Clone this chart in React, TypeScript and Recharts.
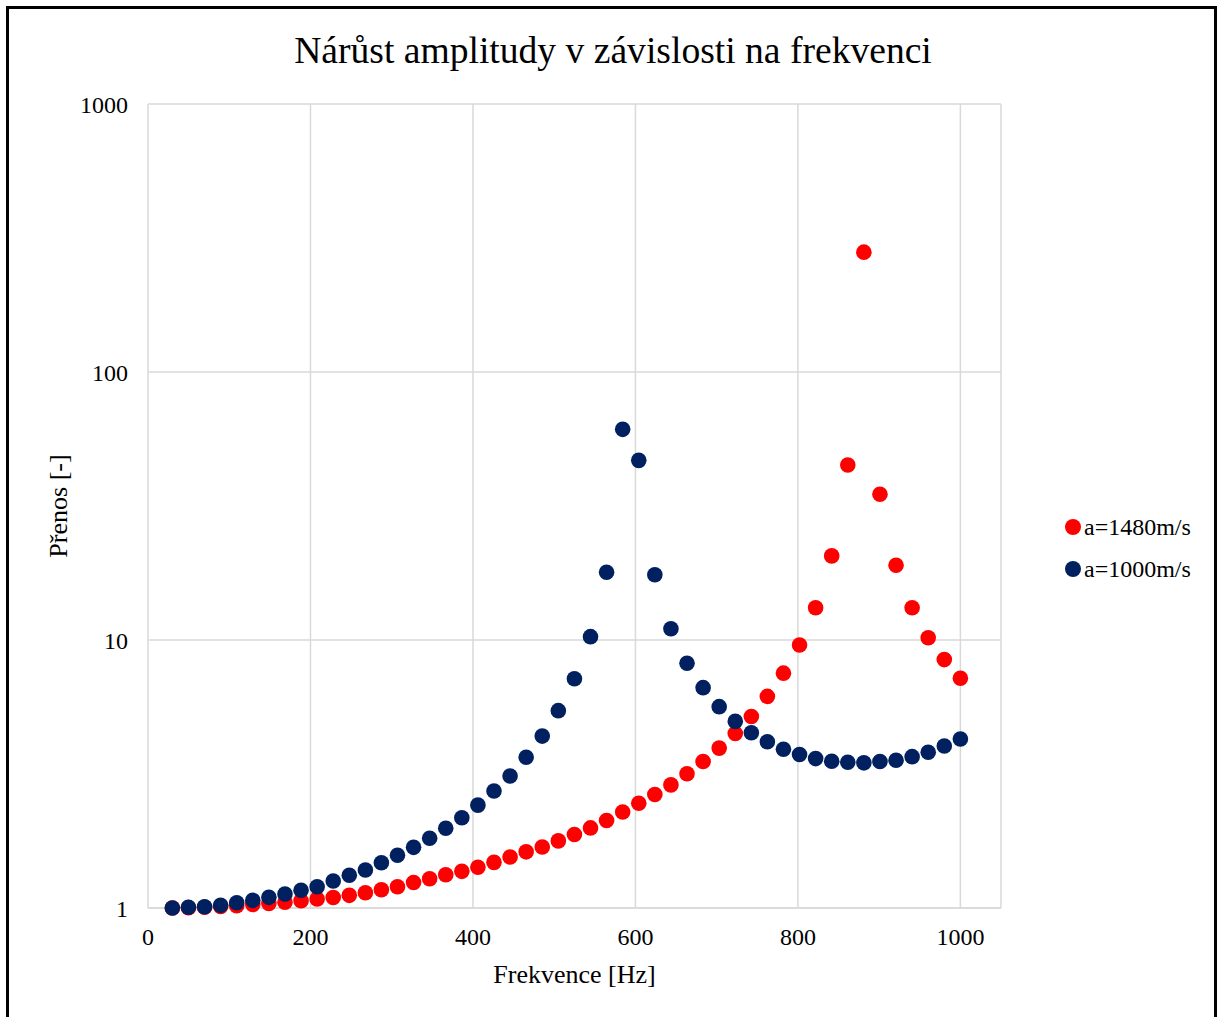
import React from 'react';
import { ScatterChart, Scatter, XAxis, YAxis, CartesianGrid } from 'recharts';

// frekvence [Hz]
const freq = [
  30.0, 49.8, 69.6, 89.4, 109.2, 129.0, 148.8, 168.6, 188.4, 208.2,
  228.0, 247.8, 267.6, 287.3, 307.1, 326.9, 346.7, 366.5, 386.3, 406.1,
  425.9, 445.7, 465.5, 485.3, 505.1, 524.9, 544.7, 564.5, 584.3, 604.1,
  623.9, 643.7, 663.5, 683.3, 703.1, 722.9, 742.7, 762.4, 782.2, 802.0,
  821.8, 841.6, 861.4, 881.2, 901.0, 920.8, 940.6, 960.4, 980.2, 1000.0,
];

// a=1480m/s
const prenos1480 = [
  1.0, 1.003, 1.007, 1.013, 1.02, 1.03, 1.04, 1.05, 1.065, 1.08,
  1.095, 1.115, 1.14, 1.17, 1.2, 1.245, 1.285, 1.33, 1.37, 1.42,
  1.48, 1.55, 1.62, 1.69, 1.78, 1.88, 1.99, 2.12, 2.28, 2.46,
  2.65, 2.88, 3.17, 3.52, 3.95, 4.48, 5.18, 6.16, 7.52, 9.58,
  13.2, 20.6, 45.0, 280, 35.0, 19.0, 13.2, 10.2, 8.45, 7.2,
];

// a=1000m/s
const prenos1000 = [
  1.0, 1.006, 1.011, 1.023, 1.046, 1.068, 1.096, 1.128, 1.164, 1.201,
  1.261, 1.325, 1.386, 1.476, 1.573, 1.684, 1.82, 1.983, 2.172, 2.42,
  2.731, 3.107, 3.65, 4.38, 5.45, 7.17, 10.29, 17.89, 61.1, 46.8,
  17.52, 11.02, 8.19, 6.64, 5.64, 4.97, 4.51, 4.17, 3.91, 3.74,
  3.61, 3.53, 3.5, 3.48, 3.52, 3.56, 3.67, 3.81, 4.02, 4.27,
];

const xTicks = [0, 200, 400, 600, 800, 1000];
const yTicks = [1, 10, 100, 1000];

const series = [
  { name: 'a=1480m/s', values: prenos1480, color: '#FF0000' },
  { name: 'a=1000m/s', values: prenos1000, color: '#002060' },
];

const FONT = '"Liberation Serif", "Times New Roman", serif';

const dot = (color: string) => (props: any) => (
  <circle cx={props.cx} cy={props.cy} r={7.8} fill={color} />
);

const App: React.FC = () => {
  return (
    <div style={{ position: 'absolute', left: 0, top: 0, width: 1218, height: 1017, overflow: 'hidden', fontFamily: FONT }}>
      <div
        style={{
          position: 'absolute', left: 6, top: 6, width: 1211, height: 1100,
          border: '3px solid #000', boxSizing: 'border-box', background: '#fff',
        }}
      />
      <div style={{ position: 'absolute', left: 0, top: 0 }}>
        <ScatterChart width={1218} height={1017} margin={{ top: 104, right: 217, bottom: 49, left: 0 }}>
          <CartesianGrid stroke="#d9d9d9" strokeWidth={1.5} />
          <XAxis
            type="number"
            dataKey="f"
            domain={[0, 1050]}
            ticks={xTicks}
            height={60}
            tickLine={false}
            tickSize={0}
            tickMargin={20}
            axisLine={{ stroke: '#d9d9d9', strokeWidth: 1.5 }}
            tick={{ fill: '#000', fontSize: 24, fontFamily: FONT }}
            label={{ value: 'Frekvence [Hz]', position: 'bottom', offset: -3, fill: '#000', fontSize: 26, fontFamily: FONT }}
          />
          <YAxis
            type="number"
            dataKey="v"
            scale="log"
            domain={[1, 1000]}
            ticks={yTicks}
            width={148}
            tickLine={false}
            tickSize={0}
            tickMargin={20}
            axisLine={false}
            tick={{ fill: '#000', fontSize: 24, fontFamily: FONT }}
            label={{ value: 'Přenos [-]', angle: -90, position: 'insideLeft', offset: 58, fill: '#000', fontSize: 26, fontFamily: FONT, style: { textAnchor: 'middle' } }}
          />
          {series.map((s) => (
            <Scatter
              key={s.name}
              name={s.name}
              data={freq.map((f, i) => ({ f, v: s.values[i] }))}
              fill={s.color}
              shape={dot(s.color)}
              isAnimationActive={false}
            />
          ))}
        </ScatterChart>
      </div>
      <div
        style={{
          position: 'absolute', left: 0, width: 1226, top: 32, textAlign: 'center',
          fontSize: 37.6, lineHeight: '37px', color: '#000', whiteSpace: 'nowrap',
        }}
      >
        Nárůst amplitudy v závislosti na frekvenci
      </div>
      {series.map((s, i) => (
        <div
          key={s.name}
          style={{
            position: 'absolute', left: 1065, top: 527 + i * 42 - 12, height: 24,
            display: 'flex', alignItems: 'center', fontSize: 24, lineHeight: '24px', color: '#000',
          }}
        >
          <span style={{ display: 'inline-block', width: 16, height: 16, borderRadius: '50%', background: s.color, marginRight: 3 }} />
          {s.name}
        </div>
      ))}
    </div>
  );
};

export default App;
